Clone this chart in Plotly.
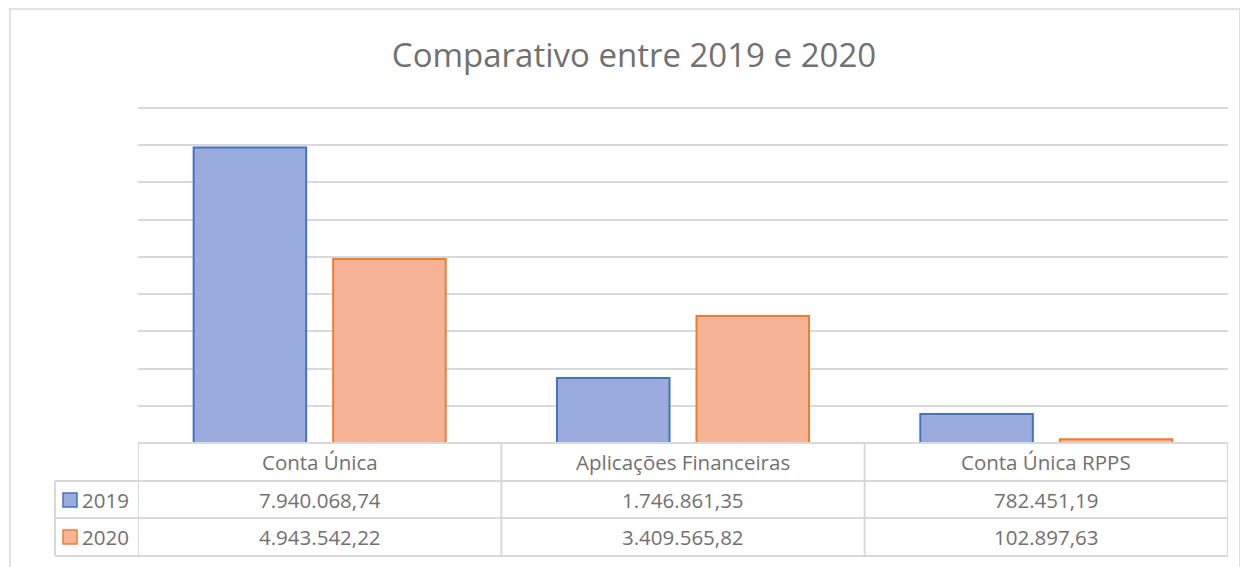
import plotly.graph_objects as go

categories = ["Conta Única", "Aplicações Financeiras", "Conta Única RPPS"]
series_names = ["2019", "2020"]
values_2019 = [7940068.74, 1746861.35, 782451.19]
values_2020 = [4943542.22, 3409565.82, 102897.63]

fill_colors = ["#9aacdd", "#f6b396"]
line_colors = ["#4472c4", "#ed7d31"]
text_color = "#717171"
grid_color = "#d9d9d9"
FONT = "Open Sans"


def br(v):
    s = f"{v:,.2f}"
    return s.replace(",", "X").replace(".", ",").replace("X", ".")


# page body has an 8px margin; work in screen (reference) pixel coordinates
OFF = 8
SW, SH = 1248, 567
PL, PR, PT, PB = 138, 1228, 105, 443   # plot area in screen px
W, H = SW - OFF, SH - OFF
pw, ph = PR - PL, PB - PT
YMAX = 9.0e6 * ph / 335.0   # keeps 9M gridline at the reference position


def px_x(px):
    return (px - PL) / pw


def px_y(py):
    return (PB - py) / ph


fig = go.Figure()
for name, vals, fc, lc in zip(series_names, [values_2019, values_2020], fill_colors, line_colors):
    fig.add_trace(go.Bar(
        x=categories, y=vals, name=name,
        marker=dict(color=fc, line=dict(color=lc, width=2)),
        showlegend=False,
    ))

shapes = []
annotations = []
# outer chart border
shapes.append(dict(type="rect", xref="paper", yref="paper",
                   x0=px_x(10), x1=px_x(1240), y0=px_y(620), y1=px_y(9),
                   line=dict(color="#d9d9d9", width=1.5), fillcolor="rgba(0,0,0,0)", layer="below"))

# data table lines
row_y = [443, 481, 518, 556]
tl = dict(color="#d9d9d9", width=2)
for i, yy in enumerate(row_y):
    x0 = 138 if i == 0 else 55
    shapes.append(dict(type="line", xref="paper", yref="paper",
                       x0=px_x(x0), x1=px_x(1228), y0=px_y(yy), y1=px_y(yy), line=tl))
shapes.append(dict(type="line", xref="paper", yref="paper",
                   x0=px_x(55), x1=px_x(55), y0=px_y(481), y1=px_y(556), line=tl))
for k in range(len(categories) + 1):
    shapes.append(dict(type="line", xref="x", yref="paper",
                       x0=k - 0.5, x1=k - 0.5, y0=px_y(443), y1=px_y(556), line=tl))

FS = 20.5
# header row
for k, c in enumerate(categories):
    annotations.append(dict(x=k, xref="x", y=px_y(462), yref="paper", text=c,
                            xanchor="center", yanchor="middle",
                            showarrow=False, font=dict(family=FONT, size=FS, color=text_color)))
# value rows
row_centers = [500, 537]
for name, vals, fc, lc, yc in zip(series_names, [values_2019, values_2020], fill_colors, line_colors, row_centers):
    for k, v in enumerate(vals):
        annotations.append(dict(x=k, xref="x", y=px_y(yc), yref="paper", text=br(v),
                                xanchor="center", yanchor="middle",
                                showarrow=False, font=dict(family=FONT, size=FS, color=text_color)))
    shapes.append(dict(type="rect", xref="paper", yref="paper",
                       x0=px_x(63), x1=px_x(77), y0=px_y(yc + 7), y1=px_y(yc - 7),
                       fillcolor=fc, line=dict(color=lc, width=1.5)))
    annotations.append(dict(x=px_x(80), xref="paper", y=px_y(yc), yref="paper", text=name,
                            xanchor="left", yanchor="middle", showarrow=False,
                            font=dict(family=FONT, size=FS, color=text_color)))

fig.update_layout(
    width=W, height=H,
    margin=dict(l=PL - OFF, r=W - (PR - OFF), t=PT - OFF, b=H - (PB - OFF)),
    paper_bgcolor="white", plot_bgcolor="white",
    title=dict(text="Comparativo entre 2019 e 2020", x=(634 - OFF) / W, xanchor="center",
               y=1 - (55 - OFF) / H, yanchor="middle",
               font=dict(family=FONT, size=33, color=text_color)),
    bargap=0.232, bargroupgap=0.1935,
    xaxis=dict(showticklabels=False, showline=False, ticks="", range=[-0.5, 2.5]),
    yaxis=dict(range=[0, YMAX], dtick=1e6, showticklabels=False, gridcolor=grid_color,
               gridwidth=1.5, zeroline=False, showline=False, ticks=""),
    shapes=shapes, annotations=annotations,
)

fig.write_html("out.html")
